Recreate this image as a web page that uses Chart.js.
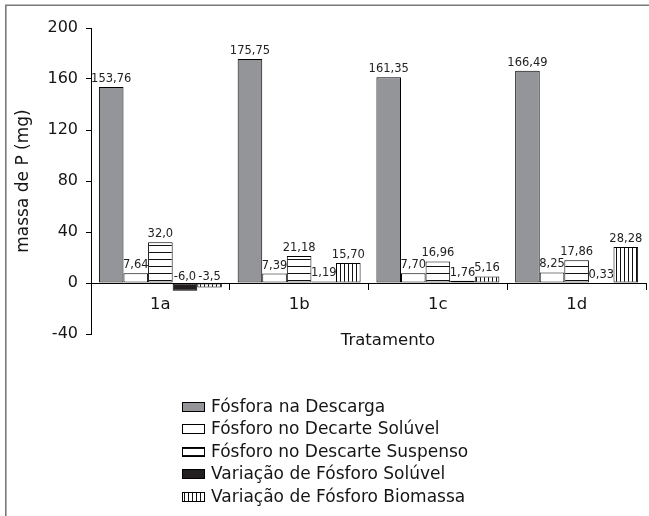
<!DOCTYPE html>
<html><head><meta charset="utf-8">
<script src="https://cdn.jsdelivr.net/npm/chart.js@4/dist/chart.umd.min.js"></script>
<style>html,body{margin:0;padding:0;background:#fff}canvas{display:block}</style>
</head><body>
<canvas id="c" width="649" height="516"></canvas>
<script>
const categories = ["1a", "1b", "1c", "1d"];
const seriesNames = ["Fósfora na Descarga", "Fósforo no Decarte Solúvel", "Fósforo no Descarte Suspenso", "Variação de Fósforo Solúvel", "Variação de Fósforo Biomassa"];
const descarga = ["153.76", "175.75", "161.35", "166.49"];
const decarteSoluvel = ["7.64", "7.39", "7.70", "8.25"];
const descarteSuspenso = ["32.0", "21.18", "16.96", "17.86"];
const variacaoSoluvel = ["-6.0", "1.19", "1.76", "0.33"];
const variacaoBiomassa = ["-3.5", "15.70", "5.16", "28.28"];
const yTicks = [-40, 0, 40, 80, 120, 160, 200];
const yTitle = "massa de P (mg)";
const xTitle = "Tratamento";

const FONT = "'DejaVu Sans', sans-serif";
const TEXT = '#151515';
const canvas = document.getElementById('c');
const ctx = canvas.getContext('2d');

function makePattern(w, h, draw) {
  const c = document.createElement('canvas');
  c.width = w; c.height = h;
  const g = c.getContext('2d');
  g.fillStyle = '#fff'; g.fillRect(0, 0, w, h);
  g.fillStyle = '#111';
  draw(g);
  return ctx.createPattern(c, 'repeat');
}
const horizHatch = makePattern(8, 7, g => g.fillRect(0, 0, 8, 1));
const vertHatch = makePattern(4, 8, g => g.fillRect(0, 0, 1, 8));

const seriesRaw = [descarga, decarteSoluvel, descarteSuspenso, variacaoSoluvel, variacaoBiomassa];
const fills = ['#939598', '#ffffff', horizHatch, '#231f20', vertHatch];

const datasets = seriesRaw.map((arr, i) => ({
  label: seriesNames[i],
  data: arr.map(Number),
  valueText: arr.map(s => s.replace('.', ',')),
  backgroundColor: fills[i],
  borderColor: '#000',
  borderWidth: 1,
  borderSkipped: false,
  categoryPercentage: 0.886,
  barPercentage: 1.0
}));

const framePlugin = {
  id: 'frame',
  beforeDraw(chart) {
    const c = chart.ctx;
    c.save();
    c.fillStyle = '#fff';
    c.fillRect(0, 0, chart.width, chart.height);
    c.strokeStyle = '#7a7a7a';
    c.lineWidth = 1.6;
    c.beginPath();
    c.moveTo(5.8, chart.height);
    c.lineTo(5.8, 5.3);
    c.lineTo(chart.width, 5.3);
    c.stroke();
    c.restore();
  }
};

const labelsPlugin = {
  id: 'valueLabels',
  afterDatasetsDraw(chart) {
    const c = chart.ctx;
    const ys = chart.scales.y;
    const zero = ys.getPixelForValue(0);
    c.save();
    c.font = "11.5px " + FONT;
    c.fillStyle = '#222';
    c.textAlign = 'center';
    c.textBaseline = 'alphabetic';
    chart.data.datasets.forEach((ds, i) => {
      const meta = chart.getDatasetMeta(i);
      meta.data.forEach((bar, j) => {
        const v = ds.data[j];
        const y = v >= 0 ? bar.y - 5 : zero - 3;
        c.fillText(ds.valueText[j], bar.x, y);
      });
    });
    c.restore();
  }
};

const legendPlugin = {
  id: 'customLegend',
  afterDraw(chart) {
    const c = chart.ctx;
    c.save();
    c.font = "17px " + FONT;
    c.textBaseline = 'middle';
    c.textAlign = 'left';
    const lx = 182, ly0 = 407, dy = 22.4;
    chart.data.datasets.forEach((ds, i) => {
      const y = Math.round(ly0 + i * dy);
      c.fillStyle = ds.backgroundColor;
      c.fillRect(lx, y - 5, 23, 10);
      c.strokeStyle = '#000';
      c.lineWidth = 1;
      c.strokeRect(lx + 0.5, y - 4.5, 22, 9);
      c.fillStyle = TEXT;
      c.fillText(ds.label, 211, y + 1);
    });
    c.font = "16.5px " + FONT;
    c.textAlign = 'center';
    c.fillText(xTitle, 388, 341);
    c.restore();
  }
};

new Chart(ctx, {
  type: 'bar',
  data: { labels: categories, datasets: datasets },
  options: {
    responsive: false,
    animation: false,
    devicePixelRatio: 1,
    layout: { padding: { left: 0, top: 28, right: 3, bottom: 182 } },
    plugins: { legend: { display: false }, tooltip: { enabled: false } },
    scales: {
      x: {
        type: 'category',
        position: { y: 0 },
        offset: true,
        grid: { display: true, drawOnChartArea: false, drawTicks: true, tickLength: 6, color: '#000', offset: true },
        border: { display: true, color: '#000', width: 1 },
        ticks: { font: { family: FONT, size: 16.5 }, color: TEXT, padding: 6 }
      },
      y: {
        min: yTicks[0],
        max: yTicks[yTicks.length - 1],
        afterBuildTicks(scale) { scale.ticks = yTicks.map(v => ({ value: v })); },
        afterFit(scale) { scale.width = 91; },
        grid: { display: true, drawOnChartArea: false, drawTicks: true, tickLength: 5, color: '#000' },
        border: { display: true, color: '#000', width: 1 },
        ticks: { font: { family: FONT, size: 16 }, color: TEXT, padding: 8 },
        title: { display: true, text: yTitle, font: { family: FONT, size: 17 }, color: TEXT, padding: { top: 13, bottom: 0 } }
      }
    }
  },
  plugins: [framePlugin, labelsPlugin, legendPlugin]
});
</script>
</body></html>
